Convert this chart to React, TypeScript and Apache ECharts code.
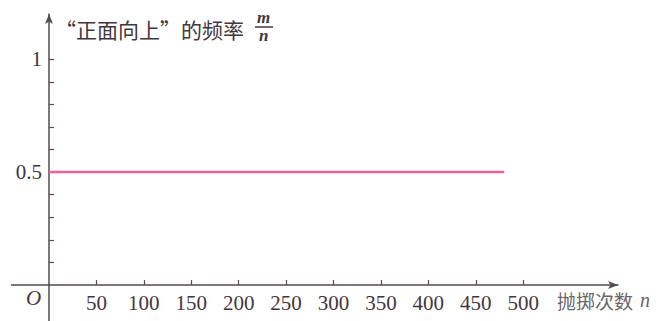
import React, { useEffect, useRef } from "react";
import * as echarts from "echarts";

const trialCounts = [0, 50, 100, 150, 200, 250, 300, 350, 400, 450, 480];
const frequencies = [0.5, 0.5, 0.5, 0.5, 0.5, 0.5, 0.5, 0.5, 0.5, 0.5, 0.5];
const xTickValues = [50, 100, 150, 200, 250, 300, 350, 400, 450, 500];
const yTickValues = [0.1, 0.2, 0.3, 0.4, 0.5, 0.6, 0.7, 0.8, 0.9, 1.0];
const yLabelValues = [0.5, 1];
const yTitle = "“正面向上”的频率";
const xTitle = "抛掷次数";

const AXIS = "#544a4f";
const TEXT = "#43363c";
const SERIF = "'Liberation Serif', 'DejaVu Serif', serif";
const CJK = "'Noto Sans CJK SC', sans-serif";

const GRID_LEFT = 49;
const GRID_BOTTOM = 36;
const W = 658;
const H = 321;

export default function App() {
  const ref = useRef<HTMLDivElement>(null);
  useEffect(() => {
    if (!ref.current) return;
    const chart = echarts.init(ref.current, undefined, { renderer: "svg" });
    const axisY = H - GRID_BOTTOM;
    chart.setOption({
      animation: false,
      backgroundColor: "#ffffff",
      grid: {
        left: GRID_LEFT,
        right: 40,
        top: 14,
        bottom: GRID_BOTTOM,
        containLabel: false,
        outerBoundsMode: "none",
      },
      xAxis: {
        type: "value",
        min: 0,
        max: 600,
        splitLine: { show: false },
        axisLine: {
          symbol: ["none", "arrow"],
          symbolSize: [6, 10],
          lineStyle: { color: AXIS, width: 1.5 },
        },
        axisTick: {
          inside: true,
          length: 5,
          customValues: xTickValues,
          lineStyle: { color: AXIS, width: 1.2 },
        },
        axisLabel: {
          customValues: xTickValues,
          margin: 7,
          color: TEXT,
          fontFamily: SERIF,
          fontSize: 21,
        },
      },
      yAxis: {
        type: "value",
        min: 0,
        max: 1.2,
        splitLine: { show: false },
        axisLine: {
          symbol: ["none", "arrow"],
          symbolSize: [6, 10],
          lineStyle: { color: AXIS, width: 1.5 },
        },
        axisTick: {
          inside: true,
          length: 5,
          customValues: yTickValues,
          lineStyle: { color: AXIS, width: 1.2 },
        },
        axisLabel: {
          customValues: yLabelValues,
          margin: 7,
          color: TEXT,
          fontFamily: SERIF,
          fontSize: 21,
          formatter: (v: number) => String(v),
        },
      },
      series: [
        {
          type: "line",
          data: trialCounts.map((n, i) => [n, frequencies[i]]),
          showSymbol: false,
          symbol: "none",
          z: 5,
          lineStyle: {
            color: "#f0609a",
            width: 2.5,
          },
        },
      ],
      graphic: [
        {
          type: "line",
          shape: { x1: 11, y1: axisY, x2: GRID_LEFT, y2: axisY },
          style: { stroke: AXIS, lineWidth: 1.5 },
        },
        {
          type: "line",
          shape: { x1: GRID_LEFT, y1: axisY, x2: GRID_LEFT, y2: H },
          style: { stroke: AXIS, lineWidth: 1.5 },
        },
        {
          type: "text",
          left: 26,
          top: 287,
          style: {
            text: "O",
            fill: TEXT,
            font: `italic 21px ${SERIF}`,
          },
        },
        {
          type: "text",
          left: 55,
          top: 18,
          style: {
            text: yTitle,
            fill: TEXT,
            font: `21px ${CJK}`,
          },
        },
        {
          type: "text",
          left: 257,
          top: 9,
          style: {
            text: "m",
            fill: TEXT,
            font: `italic bold 17px ${SERIF}`,
          },
        },
        {
          type: "line",
          shape: { x1: 255, y1: 27, x2: 273, y2: 27 },
          style: { stroke: TEXT, lineWidth: 1.5 },
        },
        {
          type: "text",
          left: 259,
          top: 27,
          style: {
            text: "n",
            fill: TEXT,
            font: `italic bold 17px ${SERIF}`,
          },
        },
        {
          type: "text",
          left: 557,
          top: 291,
          style: {
            text: xTitle,
            fill: "#6b6468",
            font: `19px ${CJK}`,
          },
        },
        {
          type: "text",
          left: 640,
          top: 290,
          style: {
            text: "n",
            fill: "#6b6468",
            font: `italic 20px ${SERIF}`,
          },
        },
      ],
    });
    return () => chart.dispose();
  }, []);
  return (
    <div
      ref={ref}
      style={{ position: "fixed", left: 0, top: 0, width: W, height: H }}
    />
  );
}
